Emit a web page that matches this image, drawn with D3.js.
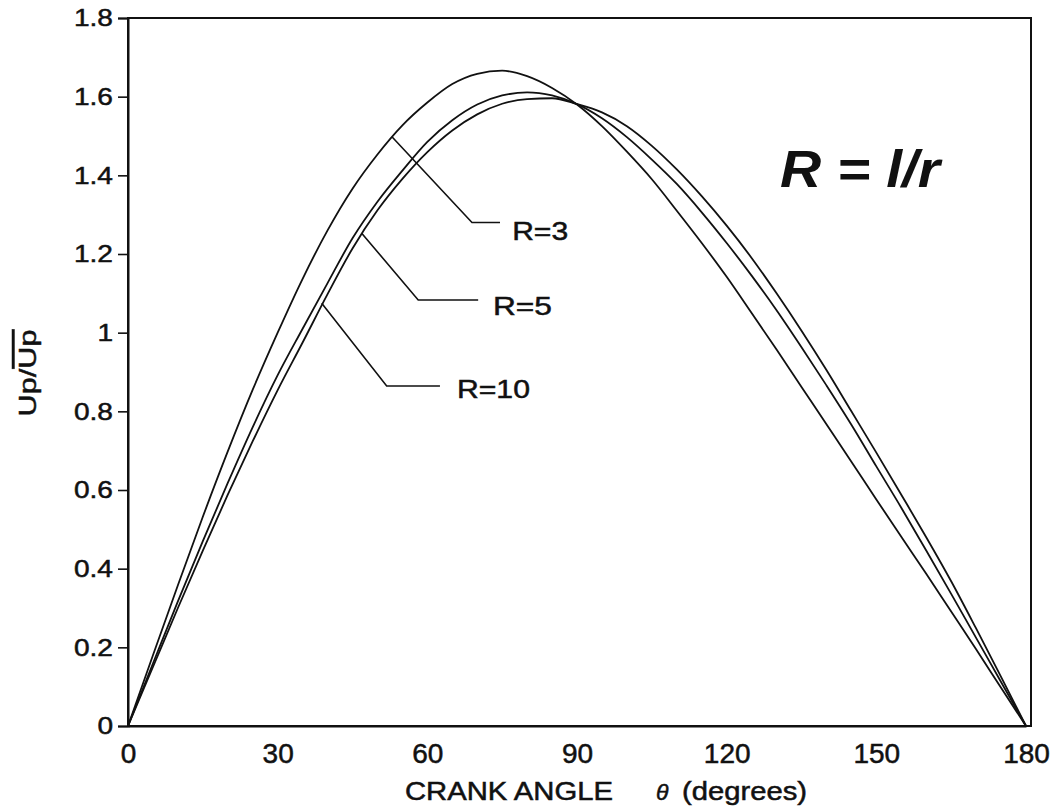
<!DOCTYPE html>
<html><head><meta charset="utf-8">
<script src="https://cdn.jsdelivr.net/npm/d3@7"></script>
<style>
html,body{margin:0;padding:0;background:#fff;}
svg{display:block;}
text{font-family:"Liberation Sans",Arial,Helvetica,sans-serif;fill:#111;}
</style></head>
<body>
<svg id="chart" width="1059" height="806"></svg>
<script>
// ---- data ----
const angles = [0,5,10,15,20,25,30,35,40,45,50,55,60,65,70,75,80,85,90,95,100,105,110,115,120,125,130,135,140,145,150,155,160,165,170,175,180];
const r3  = [0,.180,.358,.532,.698,.855,1.000,1.137,1.260,1.366,1.453,1.527,1.585,1.632,1.658,1.666,1.652,1.622,1.580,1.525,1.460,1.390,1.310,1.228,1.142,1.050,.957,.862,.767,.672,.576,.481,.387,.291,.195,.097,0];
const r5  = [0,.159,.317,.470,.618,.760,.892,1.010,1.126,1.240,1.333,1.412,1.485,1.540,1.580,1.603,1.611,1.603,1.581,1.545,1.497,1.440,1.378,1.306,1.228,1.145,1.057,.963,.866,.766,.660,.555,.446,.336,.224,.112,0];
const r10 = [0,.150,.300,.446,.588,.724,.854,.975,1.098,1.214,1.311,1.391,1.459,1.514,1.555,1.582,1.594,1.596,1.581,1.560,1.525,1.475,1.415,1.347,1.272,1.190,1.100,1.005,.905,.800,.695,.588,.480,.368,.248,.125,0];
const seriesNames = ["R=3","R=5","R=10"];
const yTicks = [0,0.2,0.4,0.6,0.8,1,1.2,1.4,1.6,1.8];
const xTicks = [0,30,60,90,120,150,180];
// label leaders: [curve point θ, value], elbow, end, text anchor (data units)
const leaderStart = [[52.9,1.498],[46.84,1.253],[38.83,1.075]];
const leaderElbow = [[68.95,1.280],[58.17,1.083],[51.85,0.8645]];
const leaderEnd   = [[74.56,1.280],[70.19,1.083],[62.53,0.8645]];
const labelPos    = [[77.0,1.236],[73.16,1.0452],[65.94,0.834]];
const labelWidths = [56,59,73];

const svg = d3.select("#chart");
svg.append("rect").attr("width",1059).attr("height",806).attr("fill","#fff");

const L=128, R=1026, T=18, B=726;
const x = d3.scaleLinear().domain([0,180]).range([L,R]);
const y = d3.scaleLinear().domain([0,1.8]).range([B,T]);

// frame
svg.append("rect").attr("x",L).attr("y",T).attr("width",1031-L).attr("height",B-T)
  .attr("fill","none").attr("stroke","#111").attr("stroke-width",2);

// y axis
const ya = svg.append("g").attr("transform",`translate(${L},0)`)
  .call(d3.axisLeft(y).tickValues(yTicks).tickSize(10).tickPadding(5).tickFormat(d=>String(d)));
ya.select(".domain").attr("stroke","#111").attr("stroke-width",2);
ya.selectAll(".tick line").attr("stroke","#111").attr("stroke-width",1.6);
ya.selectAll(".tick text").attr("font-size",24).attr("fill","#111")
  .attr("stroke","#111").attr("stroke-width",0.5)
  .attr("font-family","Liberation Sans, Arial, sans-serif")
  .each(function(){ const w=this.getComputedTextLength(); d3.select(this).attr("textLength",w*1.17).attr("lengthAdjust","spacingAndGlyphs"); });

// x axis (labels only)
const xa = svg.append("g").attr("transform",`translate(0,${B})`)
  .call(d3.axisBottom(x).tickValues(xTicks).tickSize(0).tickPadding(17).tickFormat(d=>String(d)));
xa.select(".domain").attr("stroke","#111").attr("stroke-width",2);
xa.selectAll(".tick text").attr("font-size",28).attr("fill","#111")
  .attr("stroke","#111").attr("stroke-width",0.5)
  .attr("font-family","Liberation Sans, Arial, sans-serif");

// curves
const line = d3.line().x((d,i)=>x(angles[i])).y(d=>y(d)).curve(d3.curveMonotoneX);
[r3,r5,r10].forEach(s=>{
  svg.append("path").attr("d",line(s)).attr("fill","none").attr("stroke","#111").attr("stroke-width",1.8);
});

// leaders & labels
seriesNames.forEach((n,i)=>{
  const pts=[leaderStart[i],leaderElbow[i],leaderEnd[i]];
  svg.append("path").attr("d",d3.line().x(p=>x(p[0])).y(p=>y(p[1]))(pts))
    .attr("fill","none").attr("stroke","#111").attr("stroke-width",1.6);
  svg.append("text").attr("x",x(labelPos[i][0])).attr("y",y(labelPos[i][1]))
    .attr("font-size",26).attr("stroke","#111").attr("stroke-width",0.5)
    .attr("textLength",labelWidths[i]).attr("lengthAdjust","spacingAndGlyphs").text(n);
});

// y axis title
const yt = svg.append("text").attr("transform","translate(36,373) rotate(-90)")
  .attr("text-anchor","middle").attr("font-size",24).attr("stroke","#111").attr("stroke-width",0.5)
  .attr("textLength",87).attr("lengthAdjust","spacingAndGlyphs");
yt.append("tspan").text("Up/");
yt.append("tspan").style("text-decoration","overline").text("Up");

// x axis title
const xt = svg.append("g").attr("stroke","#111").attr("stroke-width",0.5);
xt.append("text").attr("x",405).attr("y",800).attr("font-size",25).attr("textLength",208).attr("lengthAdjust","spacingAndGlyphs").text("CRANK ANGLE");
xt.append("text").attr("x",656).attr("y",800).attr("font-size",23).attr("font-style","italic").text("θ");
xt.append("text").attr("x",682).attr("y",800).attr("font-size",25).attr("textLength",125).attr("lengthAdjust","spacingAndGlyphs").text("(degrees)");

// annotation
svg.append("text").attr("x",780).attr("y",187).attr("font-family","Open Sans, sans-serif")
  .attr("font-weight",700).attr("font-style","italic").attr("font-size",52)
  .attr("textLength",160).attr("lengthAdjust","spacingAndGlyphs").attr("fill","#000").text("R = l/r");
</script>
</body></html>
